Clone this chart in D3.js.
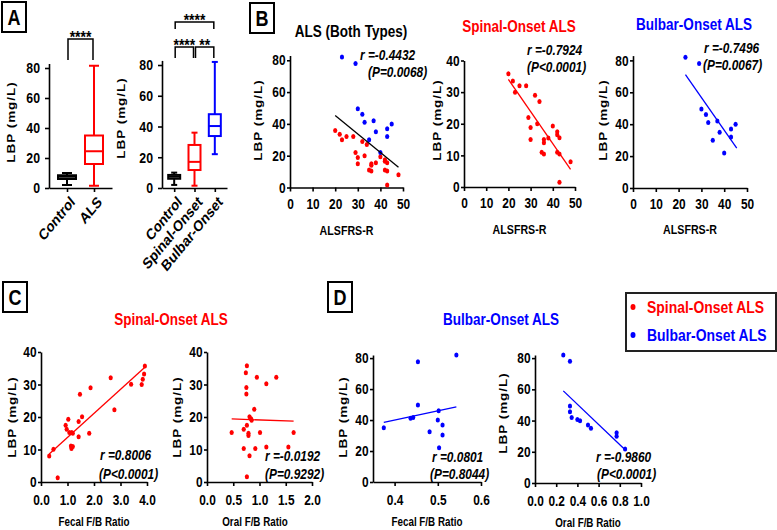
<!DOCTYPE html>
<html>
<head>
<meta charset="utf-8">
<script src="https://cdn.jsdelivr.net/npm/d3@7"></script>
<style>
  body { margin: 0; background: #fff; }
  svg { display: block; }
</style>
</head>
<body>
<div id="chart"></div>
<script>
const RED = "#ff0000", BLUE = "#0000ff";
const SANS = "'Liberation Sans', Arial, sans-serif";
const SX = 0.82; // the figure's text is horizontally squeezed

// Panel A: box summaries [min, q1, median, q3, max] of LBP (mg/L)
const groupsA1 = ["Control", "ALS"];
const boxesA1 = [[2, 6, 7.5, 8.5, 10], [1.5, 16, 24.5, 35, 81.5]];
const groupsA2 = ["Control", "Spinal-Onset", "Bulbar-Onset"];
const boxesA2 = [[2, 6, 7.3, 8.5, 10], [1.5, 11.7, 17, 28, 36], [22, 33.8, 40.3, 48, 82]];
const sigA1 = [["Control", "ALS", "****"]];
const sigA2 = [["Control", "Bulbar-Onset", "****"], ["Control", "Spinal-Onset", "****"], ["Spinal-Onset", "Bulbar-Onset", "**"]];

// Panel B: ALSFRS-R vs LBP
const spinalFRS = [20, 22, 23, 25, 28, 32, 34, 29, 30, 30, 33, 40, 36, 36, 38, 35, 36, 42, 42, 43, 42, 43, 43, 48];
const spinalLBP = [35.8, 33.5, 30, 32, 32, 29, 27, 22, 18.8, 15, 20, 19.3, 15, 14, 15.5, 11, 10.4, 17.5, 16.5, 15.6, 11, 10.4, 1.5, 8];
const bulbarFRS = [23, 29, 30, 32, 33, 37, 38, 35, 40, 43, 43, 45];
const bulbarLBP = [82, 78, 49.5, 46, 41, 42, 35, 30, 22, 37, 32, 40];
const fitB1 = [[20, 45.3], [48, 12.8]];
const fitB2 = [[20, 34], [48, 5.6]];
const fitB3 = [[23, 71], [45.5, 25]];

// Panel C: spinal-onset F/B ratios vs LBP
const spinalFecal = [0.31, 0.47, 0.63, 0.93, 1.03, 0.97, 1.07, 1.16, 1.2, 1.13, 1.15, 1.2, 1.42, 1.55, 1.47, 1.42, 1.87, 1.82, 2.63, 2.77, 3.4, 3.8, 3.84, 3.89, 3.92];
const spinalFecalLBP = [8, 10.1, 1.3, 17.5, 19.3, 16.2, 15.2, 15.2, 15, 11.1, 10.3, 10.9, 18.6, 20.1, 27, 13.9, 29, 15, 32.1, 22.2, 30.1, 30, 31.6, 33.2, 35.7];
const spinalOral = [0.76, 0.74, 0.75, 0.75, 0.95, 1.32, 1.13, 0.9, 0.81, 0.84, 0.85, 0.76, 0.7, 0.79, 0.79, 0.47, 0.7, 0.81, 0.76, 0.92, 1.01, 1.13, 1.55, 1.65];
const spinalOralLBP = [35.8, 33.6, 29.1, 27.1, 32.2, 32.2, 30.2, 22.4, 20.1, 19.5, 19, 17.5, 16.2, 15, 14.3, 15.2, 10.3, 8.1, 1.6, 10.3, 15.2, 10.8, 10.8, 15.2];
const fitC1 = [[0.31, 8.6], [3.92, 35.3]];
const fitC2 = [[0.47, 19.4], [1.65, 18.7]];

// Panel D: bulbar-onset F/B ratios vs LBP
const bulbarFecal = [0.375, 0.437, 0.443, 0.454, 0.454, 0.543, 0.502, 0.5, 0.481, 0.511, 0.511, 0.503];
const bulbarFecalLBP = [35, 41.1, 41.7, 77.6, 49.7, 82, 46, 40, 32.5, 36.8, 30.3, 22.1];
const bulbarOral = [0.267, 0.33, 0.33, 0.33, 0.346, 0.4, 0.425, 0.5, 0.528, 0.77, 0.77, 0.85];
const bulbarOralLBP = [82, 78, 49.3, 45.6, 42, 40.7, 39.9, 37.1, 35, 32.2, 30, 21.8];
const fitD1 = [[0.375, 38.5], [0.543, 48.5]];
const fitD2 = [[0.267, 59], [0.85, 21.3]];

const ticks80 = [0, 20, 40, 60, 80];
const ticks40 = [0, 10, 20, 30, 40];
const ticksFRS = [0, 10, 20, 30, 40, 50];

const svg = d3.select("#chart").append("svg").attr("width", 777).attr("height", 530)
    .style("background", "#fff");

// squeezed text at (x, y)
function label(parent, x, y, str, size, opts = {}) {
    return parent.append("text")
        .attr("transform", `translate(${x},${y}) scale(${SX},1)` + (opts.rotate ? ` rotate(${opts.rotate})` : ""))
        .attr("dy", "0.35em").attr("text-anchor", opts.anchor || "middle")
        .attr("fill", opts.color || "#000")
        .style("font-family", SANS).style("font-weight", "bold")
        .style("font-style", opts.italic ? "italic" : "normal")
        .style("letter-spacing", opts.spacing || null)
        .style("font-size", size + "px").text(str);
}

function styleAxis(g, size) {
    g.select(".domain").attr("stroke", "#000").attr("stroke-width", 1.6);
    g.selectAll(".tick line").attr("stroke", "#000").attr("stroke-width", 1.6);
    g.selectAll(".tick text").attr("fill", "#000")
        .style("font-family", SANS).style("font-weight", "bold").style("font-size", size + "px")
        .each(function () {
            const t = d3.select(this), x0 = +t.attr("x") || 0;
            t.attr("x", x0 / SX).attr("transform", `scale(${SX},1)`);
        });
}

function panelLetter(letter, x, y) {
    svg.append("rect").attr("x", x).attr("y", y).attr("width", 24).attr("height", 30)
        .attr("fill", "none").attr("stroke", "#000").attr("stroke-width", 2);
    label(svg, x + 12, y + 15.5, letter, 22);
}

function yLabel(cx, cy) {
    label(svg, cx, cy, "LBP (mg/L)", 13.5, { rotate: -90, spacing: "1px" });
}

function boxPanel(o) {
    const g = svg.append("g");
    const x = d3.scalePoint().domain(o.groups).range(o.xRange).padding(o.pad);
    const y = d3.scaleLinear().domain([0, 83]).range(o.yRange);

    const xa = g.append("g").attr("transform", `translate(0,${o.yRange[0]})`)
        .call(d3.axisBottom(x).tickSize(4).tickSizeOuter(0));
    styleAxis(xa, 15.5);
    xa.selectAll(".tick text").attr("x", 0).attr("y", 0).attr("dy", "0.35em").attr("text-anchor", "end")
        .attr("transform", `scale(${SX},1) translate(${5 / SX},11) rotate(-45)`);

    const ya = g.append("g").attr("transform", `translate(${o.xRange[0]},0)`)
        .call(d3.axisLeft(y).tickValues(ticks80).tickSize(4).tickPadding(5).tickSizeOuter(0));
    styleAxis(ya, 15);

    o.stats.forEach((s, i) => {
        const cx = x(o.groups[i]);
        const bg = g.append("g").attr("stroke", o.colors[i]).attr("stroke-width", 2).attr("fill", "none");
        bg.append("line").attr("x1", cx).attr("x2", cx).attr("y1", y(s[0])).attr("y2", y(s[1]));
        bg.append("line").attr("x1", cx).attr("x2", cx).attr("y1", y(s[3])).attr("y2", y(s[4]));
        bg.append("rect").attr("x", cx - o.boxW / 2).attr("y", y(s[3]))
            .attr("width", o.boxW).attr("height", y(s[1]) - y(s[3]));
        bg.append("line").attr("x1", cx - o.boxW / 2).attr("x2", cx + o.boxW / 2)
            .attr("y1", y(s[2])).attr("y2", y(s[2]));
        [s[0], s[4]].forEach(v => bg.append("line").attr("x1", cx - o.capW / 2).attr("x2", cx + o.capW / 2)
            .attr("y1", y(v)).attr("y2", y(v)));
    });

    o.sig.forEach((s, i) => {
        const lv = o.sigLevels[i];
        const x1 = x(s[0]) + 1, x2 = x(s[1]) - 1;
        g.append("path").attr("d", `M${x1},${lv[1]}V${lv[0]}H${x2}V${lv[1]}`)
            .attr("fill", "none").attr("stroke", "#000").attr("stroke-width", 1.5);
        g.append("text").attr("transform", `translate(${(x1 + x2) / 2},${lv[0] + 4}) scale(${SX},1)`)
            .attr("text-anchor", "middle")
            .style("font-family", SANS).style("font-weight", "bold").style("font-size", "17px").text(s[2]);
    });
}

function scatter(o) {
    const g = svg.append("g");
    const x = d3.scaleLinear().domain(o.xDomain).range(o.xRange);
    const y = d3.scaleLinear().domain(o.yDomain).range(o.yRange);

    const xa = g.append("g").attr("transform", `translate(0,${o.yRange[0]})`)
        .call(d3.axisBottom(x).tickValues(o.xTicks).tickFormat(o.xFormat)
            .tickSize(4).tickPadding(o.xPad).tickSizeOuter(0));
    styleAxis(xa, 14.5);
    const ya = g.append("g").attr("transform", `translate(${o.xRange[0]},0)`)
        .call(d3.axisLeft(y).tickValues(o.yTicks).tickSize(3).tickPadding(1.5).tickSizeOuter(0));
    styleAxis(ya, 14.5);

    o.series.forEach(sr => {
        g.append("g").selectAll("ellipse").data(d3.zip(sr.x, sr.y)).join("ellipse")
            .attr("cx", d => x(d[0])).attr("cy", d => y(d[1])).attr("rx", 2.1).attr("ry", 2.5)
            .attr("fill", sr.color);
    });

    g.append("line").attr("x1", x(o.fit[0][0])).attr("y1", y(o.fit[0][1]))
        .attr("x2", x(o.fit[1][0])).attr("y2", y(o.fit[1][1]))
        .attr("stroke", o.fitColor).attr("stroke-width", 1.3);

    o.statText.forEach((t, i) => {
        label(g, o.statPos[i][0], o.statPos[i][1], t, 14.5, { anchor: "start", italic: true });
    });

    label(g, o.xLabelX != null ? o.xLabelX : (o.xRange[0] + o.xRange[1]) / 2, o.xLabelY, o.xLabel, o.xLabelSize);
    yLabel(o.yLabelPos[0], o.yLabelPos[1]);
}

// ---- Panel A
panelLetter("A", 2, 2);
boxPanel({ groups: groupsA1, stats: boxesA1, colors: ["#000", RED], xRange: [49, 112], pad: 0.667,
    yRange: [188, 63.5], boxW: 18, capW: 10, sig: sigA1, sigLevels: [[39, 60]] });
yLabel(11, 122);
boxPanel({ groups: groupsA2, stats: boxesA2, colors: ["#000", RED, BLUE], xRange: [162, 227], pad: 0.6,
    yRange: [188, 60.4], boxW: 12, capW: 6, sig: sigA2, sigLevels: [[22, 29], [47, 58], [47, 58]] });
yLabel(121, 118);

// ---- Panel B
panelLetter("B", 250, 3);
label(svg, 351, 31, "ALS (Both Types)", 16.5);
scatter({ xDomain: [0, 50], xRange: [290, 403], yDomain: [0, 83], yRange: [187.5, 55.5],
    xTicks: ticksFRS, xFormat: d3.format("d"), xPad: 7, yTicks: ticks80,
    series: [{ x: spinalFRS, y: spinalLBP, color: RED }, { x: bulbarFRS, y: bulbarLBP, color: BLUE }],
    fit: fitB1, fitColor: "#000", statText: ["r =-0.4432", "(P=0.0068)"], statPos: [[360, 55], [368, 72]],
    xLabel: "ALSFRS-R", xLabelSize: 13, xLabelY: 230, yLabelPos: [258, 120] });
label(svg, 519, 26, "Spinal-Onset ALS", 16.5, { color: RED });
scatter({ xDomain: [0, 50], xRange: [464, 575], yDomain: [0, 40], yRange: [187, 60.5],
    xTicks: ticksFRS, xFormat: d3.format("d"), xPad: 7, yTicks: ticks40,
    series: [{ x: spinalFRS, y: spinalLBP, color: RED }],
    fit: fitB2, fitColor: RED, statText: ["r =-0.7924", "(P<0.0001)"], statPos: [[527, 50], [527, 67]],
    xLabel: "ALSFRS-R", xLabelSize: 13, xLabelY: 229, yLabelPos: [437, 120] });
label(svg, 694, 24.5, "Bulbar-Onset ALS", 16.5, { color: BLUE });
scatter({ xDomain: [0, 50], xRange: [633, 747], yDomain: [0, 83], yRange: [188, 55.6],
    xTicks: ticksFRS, xFormat: d3.format("d"), xPad: 7, yTicks: ticks80,
    series: [{ x: bulbarFRS, y: bulbarLBP, color: BLUE }],
    fit: fitB3, fitColor: BLUE, statText: ["r =-0.7496", "(P=0.0067)"], statPos: [[704, 48], [703, 65]],
    xLabel: "ALSFRS-R", xLabelSize: 13, xLabelY: 229, yLabelPos: [603, 120] });

// ---- Panel C
panelLetter("C", 3, 282);
label(svg, 171, 319, "Spinal-Onset ALS", 16.5, { color: RED });
scatter({ xDomain: [0, 4], xRange: [41, 147], yDomain: [0, 40], yRange: [482, 352],
    xTicks: [0, 1, 2, 3, 4], xFormat: d3.format(".1f"), xPad: 9, yTicks: ticks40,
    series: [{ x: spinalFecal, y: spinalFecalLBP, color: RED }],
    fit: fitC1, fitColor: RED, statText: ["r =0.8006", "(P<0.0001)"], statPos: [[100, 455], [99, 474]],
    xLabel: "Fecal F/B Ratio", xLabelSize: 12, xLabelY: 522, yLabelPos: [12, 417] });
scatter({ xDomain: [0, 2], xRange: [207, 312], yDomain: [0, 40], yRange: [482, 352],
    xTicks: [0, 0.5, 1, 1.5, 2], xFormat: d3.format(".1f"), xPad: 9, yTicks: ticks40,
    series: [{ x: spinalOral, y: spinalOralLBP, color: RED }],
    fit: fitC2, fitColor: RED, statText: ["r =-0.0192", "(P=0.9292)"], statPos: [[265, 456], [265, 474]],
    xLabel: "Oral F/B Ratio", xLabelSize: 12, xLabelX: 255, xLabelY: 522, yLabelPos: [177, 417] });

// ---- Panel D
panelLetter("D", 328, 282);
label(svg, 501, 319, "Bulbar-Onset ALS", 16.5, { color: BLUE });
scatter({ xDomain: [0.35, 0.6], xRange: [373, 481], yDomain: [0, 82], yRange: [482, 355],
    xTicks: [0.4, 0.5, 0.6], xFormat: d3.format(".1f"), xPad: 9, yTicks: ticks80,
    series: [{ x: bulbarFecal, y: bulbarFecalLBP, color: BLUE }],
    fit: fitD1, fitColor: BLUE, statText: ["r =0.0801", "(P=0.8044)"], statPos: [[432, 457], [430, 474]],
    xLabel: "Fecal F/B Ratio", xLabelSize: 12, xLabelY: 522, yLabelPos: [343, 417] });
scatter({ xDomain: [0, 1], xRange: [535, 641], yDomain: [0, 82], yRange: [483, 355],
    xTicks: [0, 0.2, 0.4, 0.6, 0.8, 1], xFormat: d3.format(".1f"), xPad: 9, yTicks: ticks80,
    series: [{ x: bulbarOral, y: bulbarOralLBP, color: BLUE }],
    fit: fitD2, fitColor: BLUE, statText: ["r =-0.9860", "(P<0.0001)"], statPos: [[596, 457], [597, 474]],
    xLabel: "Oral F/B Ratio", xLabelSize: 12, xLabelY: 523, yLabelPos: [503, 413] });

// ---- Legend
const legendItems = [["Spinal-Onset ALS", RED], ["Bulbar-Onset ALS", BLUE]];
const legend = svg.append("g");
legend.append("rect").attr("x", 626).attr("y", 293).attr("width", 150).attr("height", 58)
    .attr("fill", "#fff").attr("stroke", "#222").attr("stroke-width", 2);
legendItems.forEach((d, i) => {
    const ly = 307 + i * 28;
    legend.append("ellipse").attr("cx", 633).attr("cy", ly).attr("rx", 2.5).attr("ry", 3).attr("fill", d[1]);
    label(legend, 647, ly, d[0], 17, { anchor: "start", color: d[1] });
});
</script>
</body>
</html>
